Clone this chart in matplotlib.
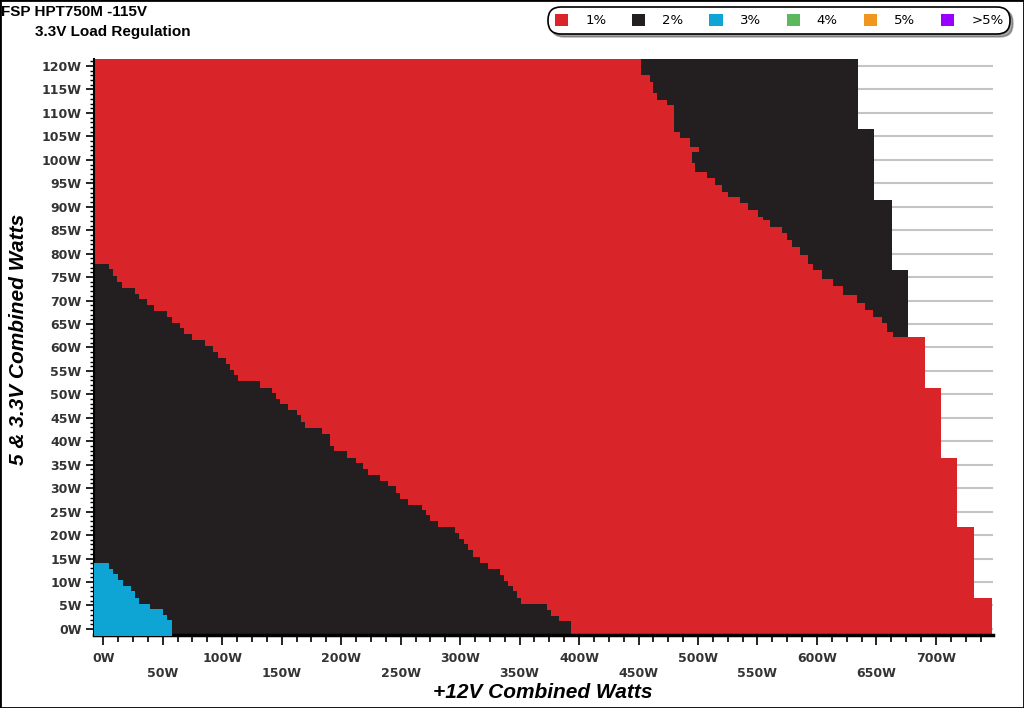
import numpy as np
import matplotlib.pyplot as plt
from matplotlib.patches import Patch, Rectangle

# lower-left 2% band: +12V watts where each step starts, and its top in 5 & 3.3V watts
low_x = [-8, 5.0, 8.4, 11.8, 16.0, 26.6, 30.3, 37.0, 42.6, 53.8, 57.5, 64.5, 68.1, 74.8, 85.5,
         92.5, 96.2, 103.1, 106.5, 109.9, 113.5, 131.7, 141.6, 145.2, 148.5, 155.5, 162.6, 165.9,
         169.6, 183.6, 190.6, 193.9, 204.6, 212.2, 218.6, 222.8, 232.6, 239.6, 246.0, 249.4, 256.4,
         267.7, 271.3, 274.6, 281.6, 295.6, 299.3, 303.2, 306.8, 310.5, 316.7, 323.6, 333.5, 337.1,
         340.5, 344.1, 347.5, 351.1, 372.7, 376.1, 383.3, 392.9]
low_y = [77.7, 76.7, 75.3, 73.9, 72.7, 71.3, 70.3, 69.1, 67.8, 66.4, 65.2, 64.1, 62.8, 61.6, 60.4,
         59.0, 57.7, 56.5, 55.2, 54.1, 52.9, 51.4, 50.2, 49.0, 47.9, 46.7, 45.5, 44.2, 42.8, 41.5,
         39.1, 37.9, 36.4, 35.3, 34.0, 32.8, 31.6, 30.5, 28.9, 27.7, 26.4, 25.4, 24.2, 23.0, 21.8,
         20.4, 19.1, 18.1, 16.8, 15.4, 14.0, 12.8, 11.5, 10.3, 9.2, 8.0, 6.5, 5.3, 4.1, 2.8, 1.7]

# 3% corner
blue_x = [-8, 5.0, 8.4, 12.6, 16.3, 23.0, 26.6, 30.3, 39.3, 49.9, 53.8, 57.5]
blue_y = [14.0, 12.8, 11.7, 10.4, 9.2, 8.1, 6.5, 5.3, 4.2, 3.0, 1.8]

# max +12V load reached for each 5 & 3.3V row band
edge_y = [-1.5, 6.6, 21.8, 36.5, 51.4, 62.3, 76.5, 91.4, 106.5, 122]
edge_x = [746.8, 732.2, 717.9, 704.6, 691.0, 676.7, 662.7, 648.1, 634.2]

# upper-right 2% band: left border per row band
up_y = [62.3, 63.4, 65.2, 66.6, 68.0, 69.4, 71.2, 73.0, 74.7, 76.5, 77.9, 79.7, 81.5, 82.9, 84.3,
        85.7, 87.2, 87.9, 89.3, 90.7, 92.1, 93.2, 94.6, 96.1, 97.5, 99.3, 101.7, 102.8, 104.6,
        106.0, 111.7, 112.8, 114.2, 116.7, 118.1, 122]
up_x = [664.1, 658.5, 654.3, 647.3, 640.3, 633.3, 622.1, 613.6, 603.9, 596.8, 592.6, 585.7, 578.7,
        574.5, 570.3, 560.4, 554.8, 550.6, 542.2, 535.2, 525.4, 519.8, 514.2, 507.2, 497.4, 494.6,
        501.0, 493.2, 484.8, 479.7, 473.6, 465.7, 462.3, 459.6, 451.8]

legend_labels = ['1%', '2%', '3%', '4%', '5%', '>5%']
legend_colors = ['#d9252a', '#231f20', '#0ea5d5', '#5cb85c', '#f0961e', '#9900ff']
RED, BLACK, BLUE = legend_colors[:3]


def lookup(edges, vals, y):
    i = np.searchsorted(edges, y, side='right') - 1
    return np.asarray(vals)[np.clip(i, 0, len(vals) - 1)]


fig = plt.figure(figsize=(10.24, 7.08), dpi=100)
ax = fig.add_axes([94 / 1024, 73 / 708, 899 / 1024, 576 / 708])

ax.fill_betweenx(edge_y, -8, edge_x + edge_x[-1:], step='post', color=RED, lw=0, zorder=1)

ys = sorted(set(up_y) | {y for y in edge_y if up_y[0] < y < up_y[-1]})
left = lookup(up_y, up_x, ys[:-1])
right = lookup(edge_y, edge_x, ys[:-1])
ax.fill_betweenx(ys, np.append(left, left[-1]), np.append(right, right[-1]),
                 step='post', color=BLACK, lw=0, zorder=2)

ax.fill_between(low_x, -1.5, low_y + low_y[-1:], step='post', color=BLACK, lw=0, zorder=2)
ax.fill_between(blue_x, -1.5, blue_y + blue_y[-1:], step='post', color=BLUE, lw=0, zorder=3)

ax.set_xlim(-7.8, 748)
ax.set_ylim(-1.3, 121.5)

xt = np.arange(0, 701, 50)
ax.set_xticks(xt)
ax.set_xticklabels([f'{v}W' if i % 2 == 0 else f'\n{v}W' for i, v in enumerate(xt)])
ax.set_xticks(np.arange(0, 748, 12.5), minor=True)
yt = np.arange(0, 121, 5)
ax.set_yticks(yt)
ax.set_yticklabels([f'{v}W' for v in yt])
ax.set_yticks(np.arange(0, 122, 1), minor=True)

ax.tick_params(axis='both', which='major', labelsize=9, labelcolor='#333333', width=1.2)
ax.tick_params(axis='x', which='major', length=7, pad=5)
ax.tick_params(axis='x', which='minor', length=5, width=1.2)
ax.tick_params(axis='y', which='major', length=6, pad=3)
ax.tick_params(axis='y', which='minor', length=3, width=1.0)
for lab in ax.get_xticklabels() + ax.get_yticklabels():
    lab.set_fontweight('bold')

ax.grid(axis='y', color='#c4c4c4', lw=1.5, zorder=0)
ax.set_axisbelow(True)
for s in ['top', 'right']:
    ax.spines[s].set_visible(False)
ax.spines['left'].set_linewidth(1.5)
ax.spines['bottom'].set_linewidth(2.5)

lab_font = dict(family='Liberation Sans', fontsize=15, fontweight='bold', fontstyle='italic')
fig.text(543 / 1024, 1 - 692 / 708, '+12V Combined Watts', ha='center', va='center', **lab_font)
fig.text(19 / 1024, 1 - 339 / 708, '5 & 3.3V Combined Watts', ha='center', va='center',
         rotation=90, **lab_font)

fig.text(1 / 1024, 1 - 12 / 708, 'FSP HPT750M -115V', ha='left', va='center',
         family='Liberation Sans', fontsize=11, fontweight='bold')
fig.text(35 / 1024, 1 - 32 / 708, '3.3V Load Regulation', ha='left', va='center',
         family='Liberation Sans', fontsize=11, fontweight='bold')

handles = [Patch(facecolor=c, edgecolor='none', label=l) for c, l in zip(legend_colors, legend_labels)]
leg = fig.legend(handles=handles, ncol=6, loc='upper right', bbox_to_anchor=(1010 / 1024, 1 - 7 / 708),
                 fontsize=9.5, handlelength=1.0, handleheight=1.1, handletextpad=1.3,
                 columnspacing=1.95, borderpad=0.5, borderaxespad=0, fancybox=True, shadow=True,
                 edgecolor='black', framealpha=1)
leg.get_frame().set_boxstyle('round', pad=0, rounding_size=0.95)
leg.get_frame().set_linewidth(1.2)

fig.patches.append(Rectangle((0, 0), 1, 1, transform=fig.transFigure, fill=False,
                             edgecolor='black', lw=2))

fig.savefig('out.png', dpi=100)
